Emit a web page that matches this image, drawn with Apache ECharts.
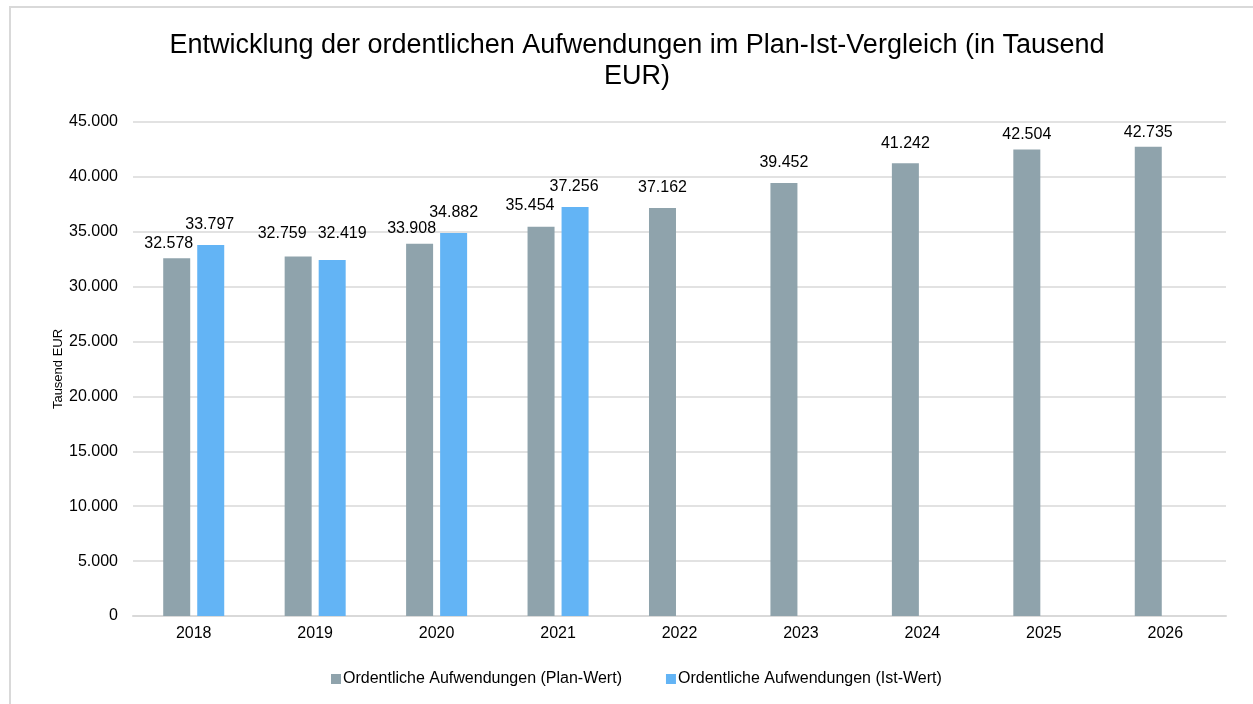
<!DOCTYPE html>
<html><head><meta charset="utf-8">
<script src="https://cdn.jsdelivr.net/npm/echarts@6/dist/echarts.min.js"></script>
<style>html,body{margin:0;padding:0;background:#fff}#c{width:1253px;height:704px}</style>
</head><body><div id="c"></div>
<script>
const categories = ['2018','2019','2020','2021','2022','2023','2024','2025','2026'];
const planValues = [32578, 32759, 33908, 35454, 37162, 39452, 41242, 42504, 42735];
const istValues = [33797, 32419, 34882, 37256, null, null, null, null, null];
const seriesNames = ['Ordentliche Aufwendungen (Plan-Wert)', 'Ordentliche Aufwendungen (Ist-Wert)'];
const titleText = 'Entwicklung der ordentlichen Aufwendungen im Plan-Ist-Vergleich (in Tausend\nEUR)';
const yAxisName = 'Tausend EUR';

// label placement tweaks (style only, as in the original's label layout)
const planLabelShift = [[-8,5],[-16,-3],[-8,5],[-11,-1],[0,0],[0,0],[0,0],[0,5],[0,6]];
const istLabelShift = [[-1,0],[10,-7],[0,0],[-1,0],[0,0],[0,0],[0,0],[0,0],[0,0]];

function fmt(v){ return String(Math.round(v)).replace(/\B(?=(\d{3})+(?!\d))/g, '.'); }
function withShift(values, shifts){
  return values.map((v,i)=> v==null ? null : {value:v, label:{offset:shifts[i]}});
}
const font = 'Liberation Sans, Arial, sans-serif';
const chart = echarts.init(document.getElementById('c'), null, {renderer:'canvas'});
const labelStyle = {show:true, position:'top', distance:12, fontFamily:font, fontSize:16, color:'#000',
  formatter:p=>fmt(p.value)};
chart.setOption({
  animation:false,
  textStyle:{fontFamily:font},
  graphic:[{type:'rect', shape:{x:10,y:7,width:1300,height:800}, style:{fill:null, stroke:'#d9d9d9', lineWidth:2}, silent:true}],
  title:{text:titleText, left:632, top:25, textAlign:'center',
    textStyle:{fontFamily:font, fontSize:27, fontWeight:'normal', color:'#000', lineHeight:31}},
  legend:{top:666, left:326, itemWidth:10, itemHeight:10, itemGap:44, icon:'rect',
    textStyle:{fontFamily:font, fontSize:16, color:'#000', padding:[0,0,0,-3]}},
  grid:{left:133, right:27, top:122, bottom:88, containLabel:false},
  xAxis:{type:'category', data:categories,
    axisLine:{lineStyle:{color:'#d9d9d9', width:2}}, axisTick:{show:false},
    axisLabel:{fontFamily:font, fontSize:16, color:'#000', margin:10}},
  yAxis:{type:'value', min:0, max:45000, interval:5000,
    name:yAxisName, nameLocation:'middle', nameGap:68, nameRotate:90, nameMoveOverlap:false,
    nameTextStyle:{fontFamily:font, fontSize:13, color:'#000'},
    axisLine:{show:false}, axisTick:{show:false},
    splitLine:{lineStyle:{color:'#d9d9d9', width:1.5}},
    axisLabel:{fontFamily:font, fontSize:16, color:'#000', margin:15, formatter:fmt}},
  series:[
    {name:seriesNames[0], type:'bar', data:withShift(planValues, planLabelShift), barWidth:27, barGap:'26%',
      itemStyle:{color:'#8fa3ac'}, label:labelStyle},
    {name:seriesNames[1], type:'bar', data:withShift(istValues, istLabelShift), barWidth:27,
      itemStyle:{color:'#63b4f5'}, label:labelStyle}
  ]
});
</script></body></html>
